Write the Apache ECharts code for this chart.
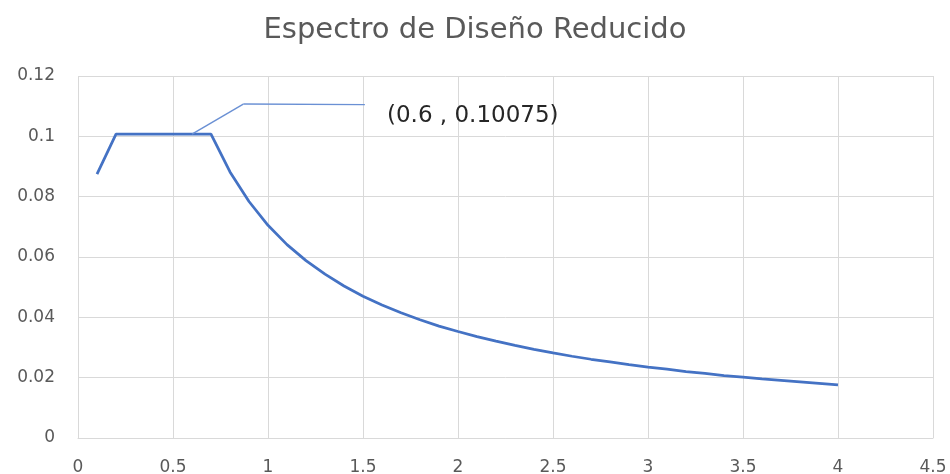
<!DOCTYPE html>
<html>
<head>
<meta charset="utf-8">
<script src="https://cdn.jsdelivr.net/npm/echarts@6/dist/echarts.min.js"></script>
<style>
  html, body { margin: 0; padding: 0; background: #ffffff; }
  #chart { width: 950px; height: 474px; }
</style>
</head>
<body>
<div id="chart"></div>
<script>
// Periods T (s)
const periods = [0.1, 0.2, 0.3, 0.4, 0.5, 0.6, 0.7, 0.8, 0.9, 1.0,
  1.1, 1.2, 1.3, 1.4, 1.5, 1.6, 1.7, 1.8, 1.9, 2.0,
  2.1, 2.2, 2.3, 2.4, 2.5, 2.6, 2.7, 2.8, 2.9, 3.0,
  3.1, 3.2, 3.3, 3.4, 3.5, 3.6, 3.7, 3.8, 3.9, 4.0];
// Reduced spectral acceleration Sa/g
const accel = [0.0875, 0.10075, 0.10075, 0.10075, 0.10075, 0.10075, 0.10075, 0.0882, 0.0784, 0.0705,
  0.0641, 0.0588, 0.0543, 0.0504, 0.0470, 0.0441, 0.0415, 0.0392, 0.0371, 0.0353,
  0.0336, 0.0321, 0.0307, 0.0294, 0.0282, 0.0271, 0.0261, 0.0252, 0.0243, 0.0235,
  0.0228, 0.0220, 0.0214, 0.0207, 0.0202, 0.0196, 0.0191, 0.0186, 0.0181, 0.0176];
// Axis tick settings
const xTicks = { min: 0, max: 4.5, interval: 0.5 };
const yTicks = { min: 0, max: 0.12, interval: 0.02 };
// Highlighted point and its callout path (data coordinates)
const calloutIndex = 5;
const calloutElbow = [0.87, 0.1107];
const calloutEnd = [1.51, 0.1105];

const titleText = 'Espectro de Diseño Reducido';
const textColor = '#595959';
const gridColor = '#d9d9d9';
const lineColor = '#4472c4';
const font = 'DejaVu Sans';

const points = periods.map((t, i) => [t, accel[i]]);
const hp = points[calloutIndex];

const chart = echarts.init(document.getElementById('chart'), null, { renderer: 'canvas' });
chart.setOption({
  animation: false,
  backgroundColor: '#ffffff',
  title: {
    text: titleText,
    left: 'center',
    top: 11,
    textStyle: { color: textColor, fontFamily: font, fontSize: 29, fontWeight: 'normal' }
  },
  grid: { left: 78, right: 17, top: 76, bottom: 36, containLabel: false, outerBoundsMode: 'none' },
  xAxis: {
    type: 'value',
    min: xTicks.min, max: xTicks.max, interval: xTicks.interval,
    axisLine: { show: true, lineStyle: { color: gridColor, width: 1 } },
    axisTick: { show: false },
    splitLine: { show: true, lineStyle: { color: gridColor, width: 1 } },
    axisLabel: { color: textColor, fontFamily: font, fontSize: 17, margin: 21 }
  },
  yAxis: {
    type: 'value',
    min: yTicks.min, max: yTicks.max, interval: yTicks.interval,
    axisLine: { show: false },
    axisTick: { show: false },
    splitLine: { show: true, lineStyle: { color: gridColor, width: 1 } },
    axisLabel: { color: textColor, fontFamily: font, fontSize: 17, margin: 23 }
  },
  series: [{
    type: 'line',
    data: points,
    showSymbol: false,
    symbol: 'none',
    lineStyle: { color: lineColor, width: 2.75 },
    itemStyle: { color: lineColor },
    z: 3,
    markLine: {
      silent: true,
      symbol: ['none', 'none'],
      label: { show: false },
      lineStyle: { color: '#6a90d4', width: 1.4, type: 'solid' },
      data: [
        [{ coord: hp }, { coord: calloutElbow }],
        [{ coord: calloutElbow }, { coord: calloutEnd }]
      ]
    },
    markPoint: {
      silent: true,
      symbol: 'circle',
      symbolSize: 0,
      data: [{ coord: hp, value: hp[1] }],
      label: {
        show: true,
        position: 'inside',
        align: 'left',
        verticalAlign: 'middle',
        offset: [195, -18],
        color: '#262626',
        fontFamily: font,
        fontSize: 23,
        formatter: () => '(' + hp[0] + ' , ' + hp[1] + ')'
      }
    }
  }]
});
</script>
</body>
</html>
